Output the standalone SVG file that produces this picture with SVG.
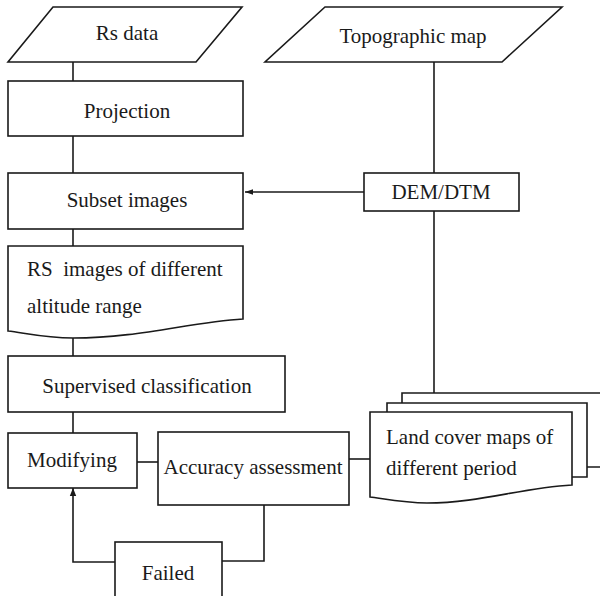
<svg xmlns="http://www.w3.org/2000/svg" width="600" height="596" viewBox="0 0 600 596">
  <defs>
    <style>
      .shape { fill: #fff; stroke: #1a1a1a; stroke-width: 1.6; }
      .wire { fill: none; stroke: #1a1a1a; stroke-width: 1.6; }
      .label { font-size: 21px; fill: #1a1a1a; }
      .mid { text-anchor: middle; }
    </style>
    <marker id="arrow" viewBox="0 0 10 10" refX="10" refY="5" markerWidth="8" markerHeight="8" markerUnits="userSpaceOnUse" orient="auto">
      <path d="M0,1.5 L10,5 L0,8.5 Z" fill="#1a1a1a"/>
    </marker>
    <marker id="arrowUp" viewBox="0 0 10 10" refX="10" refY="5" markerWidth="12" markerHeight="8" markerUnits="userSpaceOnUse" orient="auto">
      <path d="M0,1 L10,5 L0,9 Z" fill="#1a1a1a"/>
    </marker>
  </defs>
  <rect width="600" height="596" fill="#fff"/>

  <!-- connectors -->
  <g id="connectors">
    <line class="wire" x1="73" y1="62" x2="73" y2="81"/>
    <line class="wire" x1="73" y1="136" x2="73" y2="173"/>
    <line class="wire" x1="73" y1="229" x2="73" y2="246"/>
    <line class="wire" x1="73" y1="338" x2="73" y2="356"/>
    <line class="wire" x1="73" y1="412" x2="73" y2="433"/>
    <line class="wire" x1="434" y1="62" x2="434" y2="173"/>
    <line class="wire" x1="364" y1="192" x2="245" y2="192" marker-end="url(#arrow)"/>
    <line class="wire" x1="434" y1="211" x2="434" y2="393"/>
    <line class="wire" x1="137" y1="462" x2="158" y2="462"/>
    <line class="wire" x1="349" y1="459" x2="370" y2="459"/>
    <polyline class="wire" points="264,505 264,561 222,561"/>
    <polyline class="wire" points="115,562 73,562 73,488" marker-end="url(#arrowUp)"/>
  </g>

  <g font-family="'Liberation Serif', 'Times New Roman', serif">
    <g id="rs-data">
      <polygon class="shape" points="53,7 242,7 196,62 8,62"/>
      <text class="label mid" x="127" y="40">Rs data</text>
    </g>

    <g id="topographic-map">
      <polygon class="shape" points="325,7 562,7 502,62 265,62"/>
      <text class="label mid" x="413" y="43">Topographic map</text>
    </g>

    <g id="projection">
      <rect class="shape" x="8" y="81" width="235" height="55"/>
      <text class="label mid" x="127" y="118">Projection</text>
    </g>

    <g id="subset-images">
      <rect class="shape" x="8" y="173" width="235" height="56"/>
      <text class="label mid" x="127" y="207">Subset images</text>
    </g>

    <g id="dem-dtm">
      <rect class="shape" x="364" y="173" width="155" height="38"/>
      <text class="label mid" x="441" y="199">DEM/DTM</text>
    </g>

    <g id="rs-images">
      <path class="shape" d="M8,246 L243,246 L243,319 C190,322 140,338 73,338 C45,338 25,333 8,331 Z"/>
      <text class="label" x="27" y="276" xml:space="preserve">RS  images of different</text>
      <text class="label" x="27" y="313">altitude range</text>
    </g>

    <g id="supervised-classification">
      <rect class="shape" x="8" y="356" width="277" height="56"/>
      <text class="label mid" x="147" y="393">Supervised classification</text>
    </g>

    <g id="modifying">
      <rect class="shape" x="8" y="433" width="129" height="55"/>
      <text class="label mid" x="72" y="467">Modifying</text>
    </g>

    <g id="accuracy-assessment">
      <rect class="shape" x="158" y="432" width="191" height="73"/>
      <text class="label mid" x="253" y="474">Accuracy assessment</text>
    </g>

    <g id="failed">
      <rect class="shape" x="115" y="542" width="107" height="60"/>
      <text class="label mid" x="168" y="580">Failed</text>
    </g>

    <g id="land-cover-maps">
      <path class="shape" d="M402,403 L402,393 L603,393 L603,467 L587,467"/>
      <path class="shape" d="M387,412 L387,403 L587,403 L587,477 L572,477"/>
      <path class="shape" d="M370,412 L572,412 L572,485 C520,488 480,503 427,503 C405,503 385,499 370,497 Z"/>
      <text class="label" x="386" y="444">Land cover maps of</text>
      <text class="label" x="386" y="475">different period</text>
    </g>
  </g>
</svg>
